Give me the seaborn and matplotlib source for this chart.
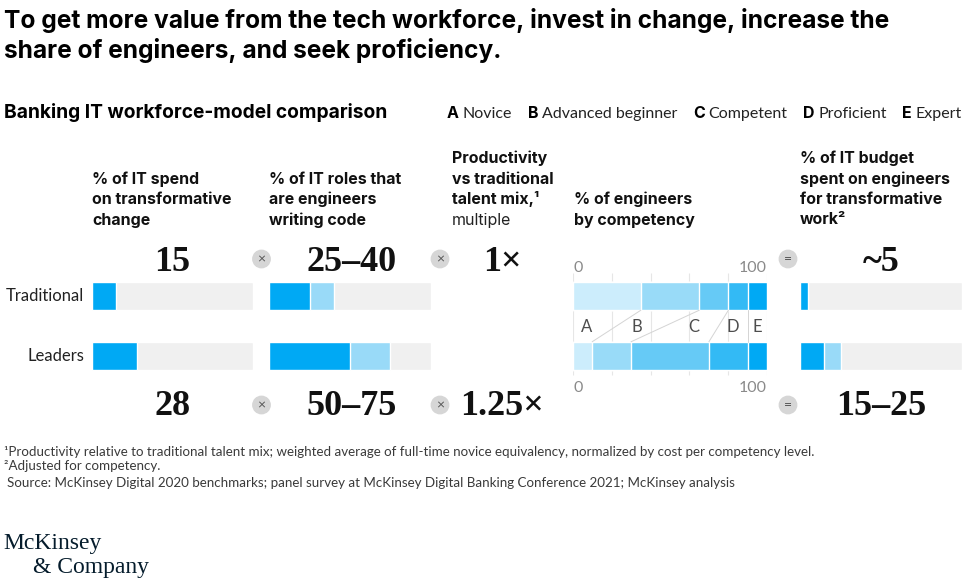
import pandas as pd
import matplotlib.pyplot as plt
import seaborn as sns
from matplotlib.patches import Circle

# Data
rows = ["Traditional", "Leaders"]
spend_transform = [15, 28]          # % of IT spend on transformative change
eng_roles_low = [25, 50]            # % of IT roles that are engineers writing code
eng_roles_high = [40, 75]
productivity = [1, 1.25]            # multiple vs traditional talent mix
levels = ["A", "B", "C", "D", "E"]
level_names = ["Novice", "Advanced beginner", "Competent", "Proficient", "Expert"]
comp_traditional = [35, 30, 15, 10, 10]   # % of engineers by competency
comp_leaders = [10, 20, 40, 20, 10]
budget_low = [5, 15]                # % of IT budget on engineers for transformative work
budget_high = [5, 25]
budget_labels = ["~5", "15–25"]

DARK = "#00a9f4"
LIGHT = "#99daf8"
BG = "#f0f0f0"
level_colors = ["#ccedfc", "#99dbf8", "#66caf6", "#33baf5", "#00a9f4"]

sns.set_theme(style="white")
plt.rcParams["font.family"] = ["Lato", "DejaVu Sans"]
SERIF = ["Liberation Serif", "DejaVu Serif"]
HEAD = ["Inter", "DejaVu Sans"]

W, H = 965, 582
fig = plt.figure(figsize=(W / 100, H / 100), dpi=100)
renderer = fig.canvas.get_renderer()

# overlay axis in pixel coordinates for texts and operator symbols
ov = fig.add_axes([0, 0, 1, 1], zorder=5)
ov.set_xlim(0, W)
ov.set_ylim(H, 0)
ov.axis("off")

BAR_H = 0.475


def fit(t, width):
    # rescale a text so its rendered width matches the reference
    w = t.get_window_extent(renderer).width
    t.set_fontsize(t.get_fontsize() * width / w)
    return t.get_fontsize()


def panel_ax(x0, x1):
    # rows 0/1 sit at y=296/356 px, 60 px per unit
    ax = fig.add_axes([x0 / W, 1 - 386 / H, (x1 - x0) / W, 120 / H])
    ax.set_facecolor("none")
    return ax


def bars(ax, values, color):
    sns.barplot(x=values, y=rows, order=rows, color=color, orient="h",
                width=BAR_H, saturation=1, errorbar=None, ax=ax)


def finish(ax):
    ax.set_xlim(0, 100)
    ax.set_ylim(1.5, -0.5)
    ax.axis("off")


# panel 1: spend on transformative change
ax1 = panel_ax(92, 253)
bars(ax1, [100, 100], BG)
bars(ax1, spend_transform, DARK)
finish(ax1)

# panel 2: engineers writing code
ax2 = panel_ax(269, 431)
bars(ax2, [100, 100], BG)
bars(ax2, eng_roles_high, LIGHT)
bars(ax2, eng_roles_low, DARK)
finish(ax2)

# panel 4: competency mix (stacked)
ax4 = panel_ax(572.7, 767.3)
comp = pd.DataFrame({
    "row": [r for r in rows for _ in levels],
    "level": levels * 2,
    "share": comp_traditional + comp_leaders,
})
comp["cum"] = comp.groupby("row")["share"].cumsum()
ax4.vlines(range(0, 101, 20), -0.38, 1.32, color="#e6e6e6", lw=0.8, zorder=0.5)
for lvl, col in reversed(list(zip(levels, level_colors))):
    d = comp[comp["level"] == lvl]
    sns.barplot(data=d, x="cum", y="row", order=rows, color=col, orient="h",
                width=BAR_H, saturation=1, errorbar=None, ax=ax4)
trad_b = comp[comp["row"] == rows[0]]["cum"].tolist()[:-1]
lead_b = comp[comp["row"] == rows[1]]["cum"].tolist()[:-1]
for t, l in zip(trad_b, lead_b):
    ax4.plot([t, l], [BAR_H / 2, 1 - BAR_H / 2], color="#d4d4d4", lw=0.7)
for lvl, lx in zip(levels, [7, 33, 62, 82, 95]):
    ax4.text(lx, 0.52, lvl, ha="center", va="center", fontsize=12, color="#4d4d4d")
finish(ax4)

# panel 5: budget on engineers for transformative work
ax5 = panel_ax(800, 962)
bars(ax5, [100, 100], BG)
bars(ax5, budget_high, LIGHT)
bars(ax5, budget_low, DARK)
finish(ax5)

# row labels
for i, r in enumerate(rows):
    ov.text(84, 296 + 60 * i, r, ha="right", va="center", fontsize=12, color="#222")

# competency axis labels
for yb in (271.5, 391.5):
    ov.text(573, yb, "0", ha="left", va="baseline", fontsize=11.5, color="#8a8a8a")
    ov.text(767, yb, "100", ha="right", va="baseline", fontsize=11.5, color="#8a8a8a")

# big numbers
num_style = dict(ha="center", va="baseline", fontsize=26, fontweight="bold",
                 family=SERIF, color="#111")
roles_labels = [f"{a}–{b}" for a, b in zip(eng_roles_low, eng_roles_high)]
prod_labels = [f"{p:g}×" for p in productivity]
for i, yb in enumerate((271, 415)):
    ov.text(172.5, yb, str(spend_transform[i]), **num_style)
    ov.text(352, yb, roles_labels[i], **num_style)
    ov.text(502, yb, prod_labels[i], **num_style)
    ov.text(881, yb, budget_labels[i], **num_style)

# operators
for yc in (259, 405):
    for xc, sym in ((261.5, "×"), (440, "×"), (788, "=")):
        ov.add_patch(Circle((xc, yc), 8.7, color="#d6d6d6", zorder=1))
        ov.text(xc, yc + 0.5, sym, ha="center", va="center", fontsize=10,
                color="#555", zorder=2)

# column headers, one line each (baselines in px)
probe = ov.text(0, 0, "on transformative", fontsize=11, fontweight="bold", family=HEAD)
hsize = fit(probe, 140)
probe.remove()
bl = [163.5, 184, 204.3, 224.5]
hdr = dict(ha="left", va="baseline", fontsize=hsize, fontweight="bold",
           family=HEAD, color="#111")
headers = [
    (92, ["% of IT spend", "on transformative", "change"]),
    (269, ["% of IT roles that", "are engineers", "writing code"]),
    (452, ["Productivity", "vs traditional", "talent mix,¹"]),
    (574, ["% of engineers", "by competency"]),
    (800, ["% of IT budget", "spent on engineers", "for transformative", "work²"]),
]
for x, lines in headers:
    offset = 4 - len(lines) if x != 452 else 0
    for k, line in enumerate(lines):
        ov.text(x, bl[k + offset], line, **hdr)
ov.text(452, bl[3], "multiple", ha="left", va="baseline", fontsize=hsize,
        family=HEAD, color="#222")

# title and subtitle
t1 = ov.text(4, 28, "To get more value from the tech workforce, invest in change, increase the",
             ha="left", va="baseline", fontsize=16, fontweight="bold", family=HEAD, color="#000")
tsize = fit(t1, 886)
ov.text(4, 58, "share of engineers, and seek proficiency.",
        ha="left", va="baseline", fontsize=tsize, fontweight="bold", family=HEAD, color="#000")
sub = ov.text(4, 118, "Banking IT workforce-model comparison",
              ha="left", va="baseline", fontsize=13, fontweight="bold", family=HEAD, color="#000")
fit(sub, 384)

# legend laid out between x=447 and x=962
parts = []
for lvl, name in zip(levels, level_names):
    tl = ov.text(0, 118, lvl, ha="left", va="baseline", fontsize=11.5,
                 fontweight="bold", family=HEAD, color="#000")
    tn = ov.text(0, 118, name, ha="left", va="baseline", fontsize=11.5, color="#222")
    parts.append((tl, tn, tl.get_window_extent(renderer).width,
                  tn.get_window_extent(renderer).width))
inner = 4
total = sum(wl + inner + wn for _, _, wl, wn in parts)
gap = (962 - 447 - total) / (len(parts) - 1)
x = 447
for tl, tn, wl, wn in parts:
    tl.set_x(x)
    tn.set_x(x + wl + inner)
    x += wl + inner + wn + gap

# footnotes
foot = dict(ha="left", va="baseline", fontsize=9, color="#3a3a3a")
f1 = ov.text(4, 456, "¹Productivity relative to traditional talent mix; weighted average of "
             "full-time novice equivalency, normalized by cost per competency level.", **foot)
foot["fontsize"] = fit(f1, 813)
ov.text(4, 470, "²Adjusted for competency.", **foot)
ov.text(7, 487, "Source: McKinsey Digital 2020 benchmarks; panel survey at McKinsey "
        "Digital Banking Conference 2021; McKinsey analysis", **foot)

# logo
ov.text(3, 549, "McKinsey", ha="left", va="baseline", fontsize=17, family=SERIF, color="#051c2c")
ov.text(33, 573, "& Company", ha="left", va="baseline", fontsize=17, family=SERIF, color="#051c2c")

fig.savefig("out.png", dpi=100)
